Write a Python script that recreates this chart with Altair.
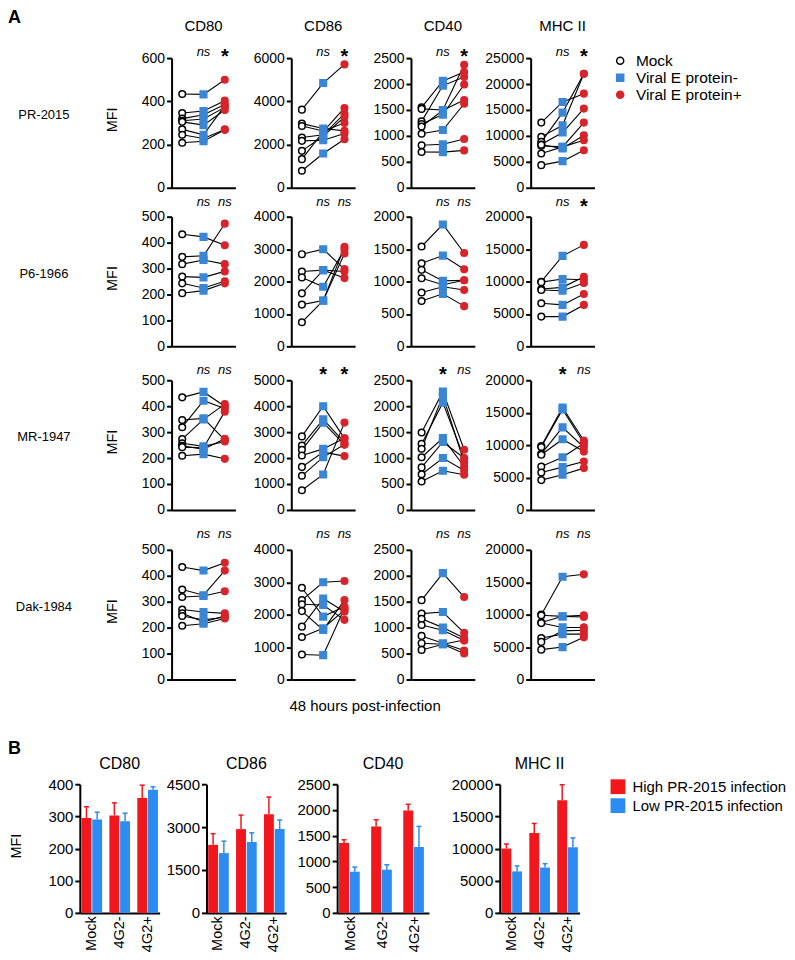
import altair as alt
import pandas as pd

FONT = "Liberation Sans"

conditions = ["Mock", "Viral E protein-", "Viral E protein+"]
markers = ["CD80", "CD86", "CD40", "MHC II"]
viruses = ["PR-2015", "P6-1966", "MR-1947", "Dak-1984"]

# Panel A: one [Mock, Viral E protein-, Viral E protein+] triplet per donor
pr2015_cd80 = [[434, 432, 500], [346, 355, 403], [320, 338, 385], [310, 318, 372],
               [305, 290, 360], [270, 245, 380], [245, 228, 270], [208, 215, 268]]
pr2015_cd86 = [[3615, 4845, 5707], [2968, 2740, 2630], [2860, 2630, 3000], [2323, 2450, 3430],
               [2170, 2200, 2507], [1707, 2384, 3276], [1323, 2600, 3692], [785, 1584, 2246]]
pr2015_cd40 = [[1550, 2060, 2230], [1520, 1500, 2370], [1280, 1970, 2135], [1230, 1410, 1990],
               [1180, 1494, 1690], [1040, 1113, 1620], [820, 838, 940], [690, 686, 720]]
pr2015_mhc = [[12560, 16540, 18140], [9810, 12050, 21990], [8850, 14490, 21990], [8330, 10640, 15260],
              [8080, 7880, 12560], [8300, 7560, 10130], [6600, 7880, 9170], [4360, 5130, 7240]]

p61966_cd80 = [[432, 422, 390], [345, 349, 473], [317, 333, 317], [269, 266, 289],
               [243, 225, 251], [205, 215, 243]]
p61966_cd86 = [[2843, 2997, 2382], [2310, 2351, 2310], [2126, 1840, 2997], [1635, 2351, 2106],
               [1287, 1410, 3068], [744, 1410, 2863]]
p61966_cd40 = [[1540, 1880, 1440], [1280, 1400, 1190], [1180, 1010, 1020], [1050, 950, 1020],
               [830, 920, 870], [700, 810, 620]]
p61966_mhc = [[9970, 13960, 15650], [9900, 10380, 10270], [8840, 9100, 10740], [8700, 8580, 9760],
              [6640, 6390, 8070], [4590, 4590, 6390]]

mr1947_cd80 = [[434, 455, 400], [347, 353, 270], [319, 421, 391], [273, 349, 408],
               [257, 245, 264], [247, 234, 274], [242, 240, 379], [209, 215, 197]]
mr1947_cd86 = [[2836, 4000, 2760], [2481, 3494, 2608], [2317, 3367, 2519], [2101, 2354, 2760],
               [1658, 2228, 2076], [1316, 2038, 2519], [760, 1367, 3367]]
mr1947_cd40 = [[1492, 2280, 1160], [1273, 2068, 997], [1180, 2200, 914], [1015, 1385, 838],
               [820, 1310, 1000], [687, 1000, 761], [547, 755, 678]]
mr1947_mhc = [[9870, 15800, 10700], [9700, 15500, 10280], [8645, 12740, 9670], [8500, 10900, 9000],
              [6700, 8130, 10280], [5780, 6600, 7470], [4600, 5420, 6450]]

dak1984_cd80 = [[434, 420, 450], [347, 325, 420], [318, 322, 340], [270, 260, 255],
                [255, 222, 245], [245, 230, 240], [207, 215, 235]]
dak1984_cd86 = [[2830, 1940, 2250], [2450, 3000, 3040], [2320, 2300, 1840], [2110, 1530, 2450],
                [1630, 2500, 2090], [1310, 1580, 2140], [770, 750, 2200]]
dak1984_cd40 = [[1530, 2050, 1590], [1270, 1300, 900], [1170, 1000, 800], [1050, 950, 750],
                [840, 700, 560], [700, 680, 760], [570, 680, 500]]
dak1984_mhc = [[10000, 15850, 16220], [9900, 9740, 9640], [8800, 9740, 9900], [8700, 8030, 8030],
               [6400, 7000, 7000], [5800, 7500, 7600], [4600, 5000, 6500]]

a_values = [
    [pr2015_cd80, pr2015_cd86, pr2015_cd40, pr2015_mhc],
    [p61966_cd80, p61966_cd86, p61966_cd40, p61966_mhc],
    [mr1947_cd80, mr1947_cd86, mr1947_cd40, mr1947_mhc],
    [dak1984_cd80, dak1984_cd86, dak1984_cd40, dak1984_mhc],
]
a_ymax = [[600, 6000, 2500, 25000], [500, 4000, 2000, 20000],
          [500, 5000, 2500, 20000], [500, 4000, 2500, 20000]]
a_step = [[200, 2000, 500, 5000], [100, 1000, 500, 5000],
          [100, 1000, 500, 5000], [100, 1000, 500, 5000]]
a_sig = [
    [("ns", "*"), ("ns", "*"), ("ns", "*"), ("ns", "*")],
    [("ns", "ns"), ("ns", "ns"), ("ns", "ns"), ("ns", "*")],
    [("ns", "ns"), ("*", "*"), ("*", "ns"), ("*", "ns")],
    [("ns", "ns"), ("ns", "ns"), ("ns", "ns"), ("ns", "ns")],
]

# Panel B
b_groups = ["Mock", "4G2-", "4G2+"]
b_series = ["High PR-2015 infection", "Low PR-2015 infection"]
b_high = [[295, 303, 357], [2380, 2930, 3450], [1360, 1680, 1990], [10000, 12400, 17500]]
b_high_top = [[330, 342, 397], [2770, 3420, 4050], [1420, 1810, 2110], [10700, 13900, 19900]]
b_low = [[290, 285, 383], [2090, 2480, 2930], [800, 840, 1280], [6450, 7050, 10200]]
b_low_top = [[313, 310, 392], [2510, 2800, 3250], [890, 935, 1680], [7300, 7650, 11650]]
b_ymax = [400, 4500, 2500, 20000]
b_step = [100, 1500, 500, 5000]

# styles / layout
A_FILL = ["white", "#3a86d6", "#d8232a"]
A_STROKE = ["black", "#3a86d6", "#d8232a"]
B_COLORS = ["#f2161d", "#2c8cf2"]
A_W, A_H = 64, 130
A_LEAD = 36
B_H = 129
B_WIDTHS = [80, 80, 92, 80]
B_GAPS = [47, 51, 71]
A_GAP_ROWS = [29, 34, 40]
SIG_Y = [-6, -15, -10, -16]

legA = alt.Legend(title=None, orient="none", legendX=534, legendY=-5, labelFont=FONT,
                  labelFontSize=15.5, labelColor="black", symbolSize=50, symbolStrokeWidth=1.5,
                  symbolOpacity=1, rowPadding=0, padding=0, labelOffset=8)
legB = alt.Legend(title=None, orient="none", legendX=532, legendY=723, labelFont=FONT,
                  labelFontSize=15, labelColor="black", symbolType="square", symbolSize=220,
                  symbolStrokeWidth=0, symbolOpacity=1, rowPadding=3, padding=0, labelOffset=7)


def label(text, x, y, size=14, **kw):
    return alt.Chart(pd.DataFrame({"t": [text]})).mark_text(
        font=FONT, fontSize=size, color="black", **kw
    ).encode(text="t:N", x=alt.value(x), y=alt.value(y))


def spacer(w, h):
    return alt.Chart(pd.DataFrame({"v": [0]})).mark_point(opacity=0).encode(
        x=alt.value(0), y=alt.value(0)).properties(width=w, height=h)


def a_panel(r, c):
    rows = []
    for d, trip in enumerate(a_values[r][c]):
        for cond, v in zip(conditions, trip):
            rows.append({"donor": d, "cond": cond, "mfi": v})
    df = pd.DataFrame(rows)
    xenc = alt.X("cond:N", scale=alt.Scale(type="point", domain=conditions, padding=0.5),
                 axis=alt.Axis(title=None, labels=False, ticks=False, domain=True))
    yenc = alt.Y("mfi:Q", scale=alt.Scale(domain=[0, a_ymax[r][c]], nice=False),
                 axis=alt.Axis(title=None, values=list(range(0, a_ymax[r][c] + 1, a_step[r][c])),
                               format="d"))
    base = alt.Chart(df)
    lines = base.mark_line(color="black", strokeWidth=1.1).encode(x=xenc, y=yenc, detail="donor:N")
    pts = base.mark_point(size=44, strokeWidth=1.5, opacity=1).encode(
        x=xenc, y=yenc,
        shape=alt.Shape("cond:N", scale=alt.Scale(domain=conditions, range=["circle", "square", "circle"]), legend=legA),
        fill=alt.Fill("cond:N", scale=alt.Scale(domain=conditions, range=A_FILL), legend=legA),
        stroke=alt.Stroke("cond:N", scale=alt.Scale(domain=conditions, range=A_STROKE), legend=legA),
    )
    sdf = pd.DataFrame({"cond": conditions[1:], "lab": list(a_sig[r][c])})
    ns = alt.Chart(sdf).transform_filter("datum.lab == 'ns'").mark_text(
        font=FONT, fontSize=13, fontStyle="italic", baseline="middle", color="black"
    ).encode(x=xenc, y=alt.value(SIG_Y[r]), text="lab:N")
    star = alt.Chart(sdf).transform_filter("datum.lab == '*'").mark_text(
        font=FONT, fontSize=20, fontWeight="bold", baseline="middle", color="black"
    ).encode(x=xenc, y=alt.value(SIG_Y[r] + 5), text="lab:N")
    layers = [lines, pts, ns, star]
    if r == 0:
        layers.append(label(markers[c], A_W / 2, -32, 15, baseline="middle"))
    if c == 0:
        layers.append(label("MFI", -59, 62, 14.5, angle=270, baseline="middle"))
        layers.append(label(viruses[r], -128, 57, 13, baseline="middle"))
        if r == 0:
            layers.append(label("A", -164, -49, 18, fontWeight="bold", align="left", baseline="top"))
    if r == 3 and c == 1:
        layers.append(label("48 hours post-infection", 74, 157, 15, baseline="middle"))
    return alt.layer(*layers).properties(width=A_W, height=A_H)


def b_panel(i):
    rows = []
    for g, h, ht, lo, lt in zip(b_groups, b_high[i], b_high_top[i], b_low[i], b_low_top[i]):
        rows.append({"grp": g, "inf": b_series[0], "mfi": h, "top": ht})
        rows.append({"grp": g, "inf": b_series[1], "mfi": lo, "top": lt})
    df = pd.DataFrame(rows)
    xenc = alt.X("grp:N", scale=alt.Scale(domain=b_groups, paddingInner=0.26, paddingOuter=0.06),
                 axis=alt.Axis(title=None, labelAngle=-90, labelFontSize=14.5, ticks=False, labelPadding=3))
    xo = alt.XOffset("inf:N", scale=alt.Scale(domain=b_series, paddingInner=0.08))
    yscale = alt.Scale(domain=[0, b_ymax[i]], nice=False)
    yaxis = alt.Axis(title=None, values=list(range(0, b_ymax[i] + 1, b_step[i])), format="d",
                     labelFontSize=15)
    col = alt.Color("inf:N", scale=alt.Scale(domain=b_series, range=B_COLORS), legend=legB)
    base = alt.Chart(df)
    bars = base.mark_bar(opacity=1).encode(x=xenc, xOffset=xo, y=alt.Y("mfi:Q", scale=yscale, axis=yaxis), color=col)
    err = base.mark_rule(strokeWidth=1.5).encode(x=xenc, xOffset=xo, y=alt.Y("mfi:Q", scale=yscale, axis=yaxis),
                                                 y2="top:Q", color=col)
    cap = base.mark_tick(thickness=1.5, size=5, opacity=1).encode(x=xenc, xOffset=xo,
                                                                  y=alt.Y("top:Q", scale=yscale, axis=yaxis), color=col)
    w = B_WIDTHS[i]
    layers = [err, cap, bars, label(markers[i], w / 2, -20, 16, baseline="middle")]
    if i == 0:
        layers.append(label("MFI", -63, 62, 14.5, angle=270, baseline="middle"))
        layers.append(label("B", -72, -44, 18, fontWeight="bold", align="left", baseline="top"))
    return alt.layer(*layers).properties(width=w, height=B_H)


cellsA = []
for r in range(4):
    cellsA.append(spacer(A_LEAD, A_H))
    for c in range(4):
        cellsA.append(a_panel(r, c))
    if r < 3:
        for c in range(5):
            cellsA.append(spacer(1, A_GAP_ROWS[r]))
gridA = alt.concat(*cellsA, columns=5, spacing={"row": 0, "column": 56},
                   bounds="flush", align="each")

cellsB = []
for i in range(4):
    cellsB.append(b_panel(i))
    if i < 3:
        cellsB.append(spacer(B_GAPS[i], B_H))
gridB = alt.concat(*cellsB, columns=7, spacing=0, bounds="flush", align="each")

chart = alt.vconcat(gridA, gridB, spacing=26, bounds="full").properties(padding=0).configure_view(
    stroke=None
).configure_axis(
    grid=False, domainColor="black", domainWidth=2, tickColor="black", tickWidth=2, tickSize=5,
    labelFont=FONT, labelFontSize=14, labelColor="black", labelPadding=2
).configure_text(font=FONT)

chart.save("out.html", embed_options={"renderer": "svg", "actions": False})
